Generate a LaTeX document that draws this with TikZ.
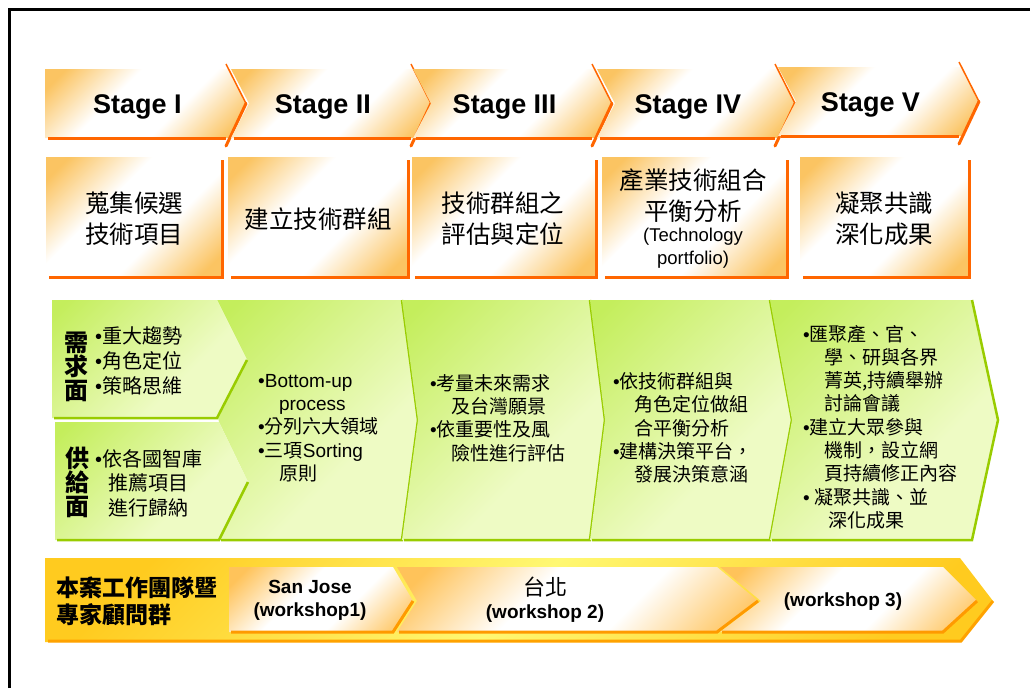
\documentclass[tikz,border=0pt]{standalone}
\usepackage{fontspec}
\setmainfont{Liberation Sans}
\newfontfamily\cjk{Noto Sans CJK TC}
\usepackage{xcolor}
\usepackage{tikz}
\definecolor{stagefill}{HTML}{FBC462}
\definecolor{stageline}{HTML}{FF6600}
\definecolor{leafdark}{HTML}{C4EE5C}
\definecolor{leaflight}{HTML}{EEFBC4}
\definecolor{leafline}{HTML}{99CC00}
\definecolor{goldfill}{HTML}{FFCB1F}
\definecolor{goldlight}{HTML}{FFF872}
\definecolor{goldline}{HTML}{FFA200}
\definecolor{shopfill}{HTML}{FFC35A}
\definecolor{shopline}{HTML}{FF9A00}

\pgfdeclarehorizontalshading{stageshade}{100bp}{color(0bp)=(stagefill); color(20bp)=(stagefill); color(40bp)=(white); color(60bp)=(white); color(80bp)=(stagefill); color(100bp)=(stagefill)}
\pgfdeclarehorizontalshading{leafshade}{100bp}{color(0bp)=(leafdark); color(18bp)=(leafdark); color(62bp)=(leaflight); color(100bp)=(leaflight)}
\pgfdeclarehorizontalshading{goldshade}{100bp}{color(0bp)=(goldfill); color(22bp)=(goldfill); color(50bp)=(goldlight); color(78bp)=(goldfill); color(100bp)=(goldfill)}
\pgfdeclarehorizontalshading{shopshade}{100bp}{color(0bp)=(shopfill); color(20bp)=(shopfill); color(42bp)=(white); color(60bp)=(white); color(82bp)=(shopfill); color(100bp)=(shopfill)}

\newcommand{\lat}[1]{{\rmfamily #1}}
\newcommand{\bul}{{\rmfamily •}}
\newcommand{\indt}{\hspace*{1.1em}}

\begin{document}
\begin{tikzpicture}[x=1pt,y=-1pt,
    stagelabel/.style={font=\fontsize{27}{30}\selectfont\bfseries,anchor=base},
    boxlabel/.style={font=\cjk\fontsize{24.5}{31}\selectfont,align=center},
    leaflabel/.style={font=\cjk\fontsize{19}{23.3}\selectfont,align=left,anchor=west,inner sep=0pt},
    sidelabel/.style={font=\cjk\bfseries\fontsize{24}{24}\selectfont,align=center,inner sep=0pt},
    shoplabel/.style={font=\fontsize{19}{23}\selectfont\bfseries,align=center}]
        \useasboundingbox (0,0) rectangle (1030,688);

        % frame
        \draw[line width=3pt] (9,688) -- (9,9.5) -- (1030,9.5);

        % stage arrows
        \foreach \L/\R/\T/\B/\n/\txt [count=\i] in {%
        45/226/69/138/0/I,
        231/411/69/138/18/II,
        413/592/69/138/18/III,
        597/775/69/138/18/IV,
        778/959/67/136/18/V}{
                \pgfmathsetmacro{\M}{(\T+\B)/2}
                \shade[shading=stageshade,shading angle=-45] (\L,\T) -- ({\R+2},\T) -- ({\R+20},\M) -- ({\R+2},\B) -- (\L,\B) -- ({\L+\n},\M) -- cycle;
                \draw[stageline,line width=3pt] ({\L+3},\B) -- (\R,\B);
                \draw[stageline,line width=1.5pt] (\R,{\T-5}) -- ({\R+20},\M);
                \draw[stageline,line width=3pt,line cap=round] ({\R+20},\M) -- (\R,{\B+8});
                \node[stagelabel] (stage\i) at ({(\L+\R)/2+2},{\B-25}) {Stage \txt};
            }

        % task boxes
        \foreach \L/\R in {46/222, 228/408, 412/596, 602/787, 800/969}{
                \shade[shading=stageshade,shading angle=-45] (\L,157) rectangle (\R,277);
                \draw[stageline,line width=3pt] ({\L+3},277) -- (\R,277) -- (\R,160);
            }
        \node[boxlabel] (task1) at (134,219) {蒐集候選\\技術項目};
        \node[boxlabel] (task2) at (318,219) {建立技術群組};
        \node[boxlabel] (task3) at (503,219) {技術群組之\\評估與定位};
        \node[boxlabel] (task4) at (693,196) {產業技術組合\\平衡分析};
        \node[font=\fontsize{18.5}{23}\selectfont,align=center] (task4en) at (693,248) {(Technology\\portfolio)};
        \node[boxlabel] (task5) at (884,219) {凝聚共識\\深化成果};

        % green arrows
        \shade[shading=leafshade,shading angle=-45] (217,300) -- (402,300) -- (418,420) -- (402,540) -- (219,540) -- (248,482) -- (219,422) -- (218,418) -- (247,360) -- cycle;
        \draw[leafline,line width=2.5pt] (221,540) -- (402,540) -- (418,420) -- (402,300);
        \foreach \L/\R/\a/\b in {402/590/16/15, 590/770/15/22, 770/972/22/26}{
                \shade[shading=leafshade,shading angle=-45] (\L,300) -- (\R,300) -- ({\R+\b},420) -- (\R,540) -- (\L,540) -- ({\L+\a},420) -- cycle;
                \draw[leafline,line width=2.5pt] ({\L+2},540) -- (\R,540) -- ({\R+\b},420) -- (\R,300);
            }

        % demand / supply side
        \shade[shading=leafshade,shading angle=-45] (52,300) -- (217,300) -- (247,360) -- (217,418) -- (52,418) -- cycle;
        \draw[leafline,line width=2.5pt] (54,418) -- (217,418) -- (247,360);
        \shade[shading=leafshade,shading angle=-45] (55,422) -- (219,422) -- (248,482) -- (219,540) -- (55,540) -- cycle;
        \draw[leafline,line width=2.5pt] (57,540) -- (219,540) -- (248,482);

        \node[sidelabel] (demand) at (76,367) {需\\求\\面};
        \node[leaflabel,font=\cjk\fontsize{20}{25}\selectfont] (demanditems) at (95,361) {\bul 重大趨勢\\\bul 角色定位\\\bul 策略思維};
        \node[sidelabel] (supply) at (77,482) {供\\給\\面};
        \node[leaflabel,font=\cjk\fontsize{20}{24.5}\selectfont] (supplyitems) at (95,483) {\bul 依各國智庫\\\hspace*{0.65em}推薦項目\\\hspace*{0.65em}進行歸納};

        \node[leaflabel] (leaf2) at (258,428) {\bul \lat{Bottom-up}\\\indt\lat{process}\\\bul 分列六大領域\\\bul 三項\lat{Sorting}\\\indt 原則};
        \node[leaflabel] (leaf3) at (430,418) {\bul 考量未來需求\\\indt 及台灣願景\\\bul 依重要性及風\\\indt 險性進行評估};
        \node[leaflabel] (leaf4) at (613,428) {\bul 依技術群組與\\\indt 角色定位做組\\\indt 合平衡分析\\\bul 建構決策平台，\\\indt 發展決策意涵};
        \node[leaflabel] (leaf5) at (803,427) {\bul 匯聚產、官、\\\indt 學、研與各界\\\indt 菁英,持續舉辦\\\indt 討論會議\\\bul 建立大眾參與\\\indt 機制，設立網\\\indt 頁持續修正內容\\\bul\ 凝聚共識、並\\\hspace*{1.35em}深化成果};

        % team bar
        \shade[shading=goldshade,shading angle=-45] (45,558) -- (960,558) -- (993,601) -- (961,642) -- (45,642) -- cycle;
        \draw[goldline,line width=3pt] (48,641) -- (961,641) -- (993,601);
        \foreach \L/\n/\R/\b in {229/0/393/20, 397/20/717/41, 720/41/943/34}{
                \shade[shading=shopshade,shading angle=-45] (\L,567) -- (\R,567) -- ({\R+\b},601) -- (\R,632) -- (\L,632) -- ({\L+\n},601) -- cycle;
                \draw[shopline,line width=3pt] ({\L+2},632) -- (\R,632) -- ({\R+\b},601);
            }
        \node[font=\cjk\bfseries\fontsize{23}{27}\selectfont,align=left,anchor=west,inner sep=0pt] (team) at (56,601) {本案工作團隊暨\\專家顧問群};
        \node[shoplabel] (shop1) at (310,600) {San Jose\\(workshop1)};
        \node[shoplabel] (shop2) at (545,600) {{\cjk\mdseries\fontsize{22}{23}\selectfont 台北}\\(workshop 2)};
        \node[shoplabel] (shop3) at (843,602) {(workshop 3)};
    \end{tikzpicture}
\end{document}
